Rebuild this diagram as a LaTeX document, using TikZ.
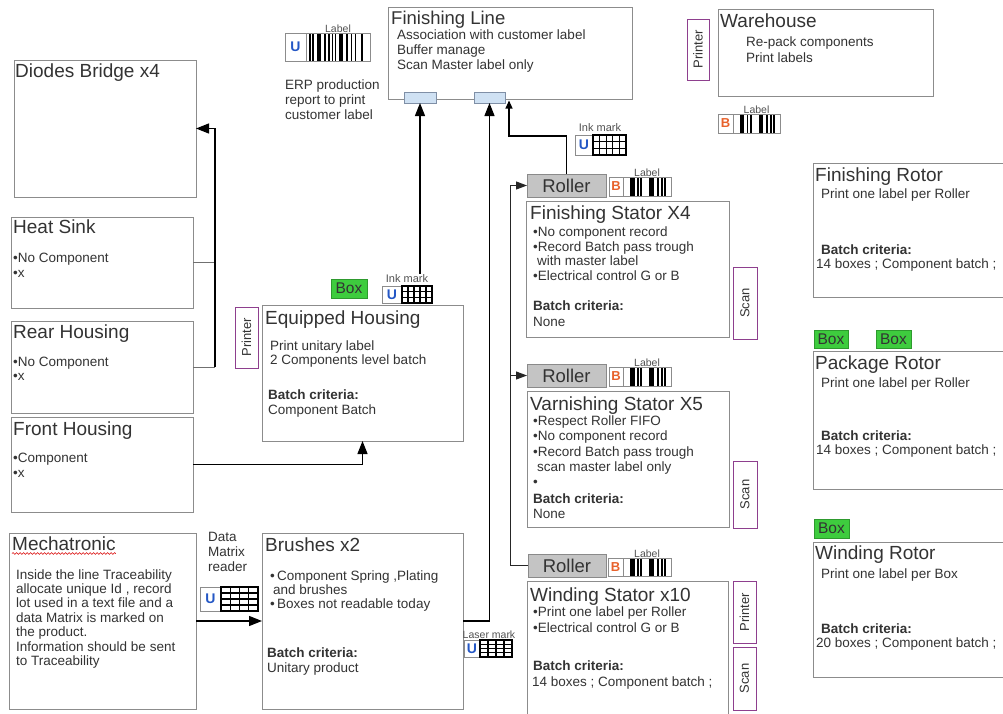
\documentclass[tikz,border=0pt]{standalone}
\usepackage{fontspec}
\setmainfont{Liberation Sans}
\usetikzlibrary{arrows.meta,calc,decorations.pathmorphing}

\definecolor{ink}{HTML}{333333}
\definecolor{frame}{HTML}{8C8C8C}
\definecolor{plum}{HTML}{8E3F8E}
\definecolor{rollgray}{HTML}{C4C4C4}
\definecolor{rolledge}{HTML}{8A8A8A}
\definecolor{boxgreen}{HTML}{3ECC3E}
\definecolor{boxedge}{HTML}{2E9A2E}
\definecolor{slotblue}{HTML}{CFE1F3}
\definecolor{slotedge}{HTML}{7F8FA6}
\definecolor{ublue}{HTML}{2457C5}
\definecolor{borange}{HTML}{E8622C}

\newcommand\fsz[1]{\fontsize{#1}{#1}\selectfont}
% bar positions (start/end as fractions of the code width)
\def\barsWide{0.05/0.075,0.10/0.125,0.165/0.23,0.28/0.305,0.345/0.37,0.40/0.425,0.45/0.475,0.52/0.585,0.63/0.655,0.70/0.725,0.76/0.785,0.86/0.885}
\def\barsShort{0.14/0.24,0.29/0.325,0.36/0.395,0.55/0.64,0.71/0.745,0.79/0.825,0.86/0.895}

\tikzset{
  panel/.style={draw=frame, line width=0.9pt, fill=white, anchor=north west, inner sep=0pt, outer sep=0pt},
  slot/.style={draw=slotedge, line width=0.7pt, fill=slotblue, anchor=north west, inner sep=0pt, outer sep=0pt},
  ttl/.style={anchor=base west, inner sep=0pt, text=ink, font=\fsz{19}},
  txt/.style={anchor=base west, inner sep=0pt, text=ink, font=\fsz{13.5}},
  txtb/.style={anchor=base west, inner sep=0pt, text=ink, font=\fsz{13.5}\bfseries},
  tag/.style={draw=plum, line width=0.9pt, fill=white, anchor=north west, inner sep=0pt, outer sep=0pt},
  tagtxt/.style={rotate=90, inner sep=0pt, text=ink, font=\fsz{13}},
  roller/.style={draw=rolledge, line width=0.9pt, fill=rollgray, anchor=north west, inner sep=0pt, outer sep=0pt, text=ink, font=\fsz{18.5}},
  greenbox/.style={draw=boxedge, line width=0.8pt, fill=boxgreen, anchor=north west, inner sep=0pt, outer sep=0pt, text=ink, font=\fsz{15.5}},
  ubox/.style={draw=frame, line width=0.8pt, fill=white, anchor=north west, inner sep=0pt, outer sep=0pt, text=ublue, font=\fsz{14}\bfseries},
  bbox/.style={ubox, text=borange, font=\fsz{13}\bfseries},
  bars/.style={draw=frame, line width=0.7pt, fill=white, anchor=north west, inner sep=0pt, outer sep=0pt,
    path picture={
      \path (path picture bounding box.south west) coordinate (ppsw)
            (path picture bounding box.north east) coordinate (ppne);
      \foreach \a/\b in #1
        \fill[black] ($(ppsw)!\a!(ppsw-|ppne)$) rectangle ($(ppne-|ppsw)!\b!(ppne)$);
    }},
  dmgrid/.style 2 args={draw=black, line width=1.1pt, fill=white, anchor=north west, inner sep=0pt, outer sep=0pt,
    path picture={
      \path (path picture bounding box.south west) coordinate (ppsw)
            (path picture bounding box.north east) coordinate (ppne);
      \foreach \f in {#1}
        \draw[black, line width=1.1pt] ($(ppsw)!\f!(ppsw-|ppne)$) -- ($(ppne-|ppsw)!\f!(ppne)$);
      \foreach \f in {#2}
        \draw[black, line width=1.1pt] ($(ppne-|ppsw)!\f!(ppsw)$) -- ($(ppne)!\f!(ppsw-|ppne)$);
    }},
  small/.style={anchor=base, inner sep=0pt, text=ink!85, font=\fsz{10.5}},
  link/.style={draw=black, line width=1.3pt, -{Triangle[length=13pt,width=10pt]}},
  linksmall/.style={draw=black, line width=1.1pt, -{Triangle[length=8pt,width=7pt]}},
  linkroll/.style={draw=black!85, line width=1pt, -{Triangle[length=11pt,width=8pt]}},
  wire/.style={draw=black!85, line width=1pt},
  graywire/.style={draw=frame!80!black, line width=0.9pt},
}

\begin{document}
\begin{tikzpicture}[x=1pt,y=-1pt]
\path[use as bounding box, fill=white] (0,0) rectangle (1003,713);

% ---------- Finishing line ----------
\node[panel, minimum width=244pt, minimum height=92pt] (fl) at (388,7) {};
\node[ttl, font=\fsz{18.5}] (flT) at (391,24) {Finishing Line};
\node[txt] (fl1) at (397,39.5) {Association with customer label};
\node[txt] (fl2) at (397,54) {Buffer manage};
\node[txt] (fl3) at (397,69) {Scan Master label only};
\node[slot, minimum width=32pt, minimum height=11pt] (flA) at (404,92) {};
\node[slot, minimum width=31pt, minimum height=11pt] (flB) at (474,92) {};

% customer label printed from ERP
\node[ubox, minimum width=21pt, minimum height=28pt] (erpU) at (285,33) {U};
\node[bars=\barsWide, minimum width=64pt, minimum height=28pt] (erpBar) at (erpU.north east) {};
\node[small] (erpLab) at ([yshift=0.5pt]erpBar.north) {Label};
\node[txt] (erp1) at (285,89) {ERP production};
\node[txt] (erp2) at (285,104) {report to print};
\node[txt] (erp3) at (285,119) {customer label};

% ---------- Warehouse ----------
\node[tag, minimum width=22pt, minimum height=61pt] (whPr) at (687,19) {};
\node[tagtxt] (whPrT) at (whPr.center) {Printer};
\node[panel, minimum width=215pt, minimum height=87pt] (wh) at (718,9) {};
\node[ttl] (whT) at (720,27) {Warehouse};
\node[txt] (wh1) at (746,46.5) {Re-pack components};
\node[txt] (wh2) at (746,62) {Print labels};
\node[bbox, minimum width=15pt, minimum height=19pt] (whB) at (718,114) {B};
\node[bars=\barsShort, minimum width=47pt, minimum height=19pt] (whBar) at (whB.north east) {};
\node[small] (whLab) at ([yshift=1pt]whBar.north) {Label};

% ---------- Left column ----------
\node[panel, minimum width=182pt, minimum height=137pt] (diode) at (14,60) {};
\node[ttl] (diodeT) at (15,77) {Diodes Bridge x4};

\node[panel, minimum width=182pt, minimum height=91pt] (heat) at (11,217) {};
\node[ttl] (heatT) at (13,233) {Heat Sink};
\node[txt] (heat1) at (13,262) {•No Component};
\node[txt] (heat2) at (13,277) {•x};

\node[panel, minimum width=182pt, minimum height=92pt] (rear) at (11,321) {};
\node[ttl] (rearT) at (13,338) {Rear Housing};
\node[txt] (rear1) at (13,366) {•No Component};
\node[txt] (rear2) at (13,380) {•x};

\node[panel, minimum width=182pt, minimum height=95pt] (front) at (11,417) {};
\node[ttl] (frontT) at (13,435) {Front Housing};
\node[txt] (front1) at (13,462) {•Component};
\node[txt] (front2) at (13,477) {•x};

\node[panel, minimum width=187pt, minimum height=176pt] (mech) at (9,533) {};
\node[ttl] (mechT) at (12,550) {Mechatronic};
\draw[red!85!black, line width=0.6pt, decorate, decoration={snake, amplitude=0.9pt, segment length=3.5pt}]
  ([yshift=-3.5pt]mechT.base west) -- ([yshift=-3.5pt]mechT.base east);
\node[txt] (mech1) at (16,579) {Inside the line Traceability};
\node[txt] (mech2) at (16,593.4) {allocate unique Id , record};
\node[txt] (mech3) at (16,607.8) {lot used in a text file and a};
\node[txt] (mech4) at (16,622.2) {data Matrix is marked on};
\node[txt] (mech5) at (16,636.6) {the product.};
\node[txt] (mech6) at (16,651) {Information should be sent};
\node[txt] (mech7) at (16,665.4) {to Traceability};

% data matrix reader
\node[txt] (dmr1) at (208,541) {Data};
\node[txt] (dmr2) at (208,556) {Matrix};
\node[txt] (dmr3) at (208,571) {reader};
\node[ubox, minimum width=21pt, minimum height=24pt] (dmU) at (200,587) {U};
\node[dmgrid={0.25,0.5,0.75}{0.25,0.5,0.75}, minimum width=37pt, minimum height=24pt] (dmGrid) at (dmU.north east) {};

% ---------- Equipped housing ----------
\node[tag, minimum width=23pt, minimum height=61pt] (ehPr) at (235,307) {};
\node[tagtxt] (ehPrT) at (ehPr.center) {Printer};
\node[greenbox, minimum width=36pt, minimum height=19pt] (ehBox) at (331,279) {Box};
\node[ubox, minimum width=20pt, minimum height=17pt] (ehU) at (382,286) {U};
\node[dmgrid={0.2,0.4,0.6,0.8}{0.33,0.67}, minimum width=30pt, minimum height=17pt] (ehGrid) at (ehU.north east) {};
\node[small, font=\fsz{11}] (ehInk) at (407,282) {Ink mark};
\node[panel, minimum width=201pt, minimum height=136pt] (eh) at (262,305) {};
\node[ttl] (ehT) at (265,324) {Equipped Housing};
\node[txt] (eh1) at (270,350) {Print unitary label};
\node[txt] (eh2) at (270,364) {2 Components level batch};
\node[txtb] (eh3) at (268,399) {Batch criteria:};
\node[txt] (eh4) at (268,414) {Component Batch};

% ---------- Brushes ----------
\node[panel, minimum width=201pt, minimum height=176pt] (brushes) at (262,533) {};
\node[ttl] (brT) at (265,551) {Brushes x2};
\node[txt] (br1) at (270,580) {•\,Component Spring ,Plating};
\node[txt] (br2) at (273,594) {and brushes};
\node[txt] (br3) at (270,608) {•\,Boxes not readable today};
\node[txtb] (br4) at (267,657) {Batch criteria:};
\node[txt] (br5) at (267,672) {Unitary product};
\node[ubox, minimum width=16pt, minimum height=17pt] (lzU) at (464,640) {U};
\node[dmgrid={0.25,0.5,0.75}{0.25,0.5,0.75}, minimum width=32pt, minimum height=17pt] (lzGrid) at (lzU.north east) {};
\node[small] (lzLab) at (489,638) {Laser mark};

% ---------- Finishing stator ----------
\node[ubox, minimum width=18pt, minimum height=20pt] (fsU) at (575,135) {U};
\node[dmgrid={0.2,0.4,0.6,0.8}{0.33,0.67}, minimum width=33pt, minimum height=20pt] (fsGrid) at (fsU.north east) {};
\node[small, font=\fsz{11}] (fsInk) at (600,131) {Ink mark};
\node[roller, minimum width=79pt, minimum height=23pt] (rollF) at (527,174) {Roller};
\node[bbox, minimum width=14pt, minimum height=19pt] (rollFB) at (609,177) {B};
\node[bars=\barsShort, minimum width=48pt, minimum height=19pt] (rollFBar) at (rollFB.north east) {};
\node[small] (rollFLab) at ([yshift=0.5pt]rollFBar.north) {Label};
\node[panel, minimum width=203pt, minimum height=136pt] (fs) at (526,201) {};
\node[ttl] (fsT) at (530,219) {Finishing Stator X4};
\node[txt] (fs1) at (533,236) {•No component record};
\node[txt] (fs2) at (533,251) {•Record Batch pass trough};
\node[txt] (fs3) at (537,265) {with master label};
\node[txt] (fs4) at (533,280) {•Electrical control G or B};
\node[txtb] (fs5) at (533,310) {Batch criteria:};
\node[txt] (fs6) at (533,326) {None};
\node[tag, minimum width=24pt, minimum height=72pt] (fsScan) at (733,267) {};
\node[tagtxt] (fsScanT) at (fsScan.center) {Scan};

% ---------- Varnishing stator ----------
\node[roller, minimum width=79pt, minimum height=23pt] (rollV) at (527,364) {Roller};
\node[bbox, minimum width=14pt, minimum height=19pt] (rollVB) at (609,367) {B};
\node[bars=\barsShort, minimum width=48pt, minimum height=19pt] (rollVBar) at (rollVB.north east) {};
\node[small] (rollVLab) at ([yshift=0.5pt]rollVBar.north) {Label};
\node[panel, minimum width=202pt, minimum height=136pt] (vs) at (527,391) {};
\node[ttl] (vsT) at (530,410) {Varnishing Stator X5};
\node[txt] (vs1) at (533,425) {•Respect Roller FIFO};
\node[txt] (vs2) at (533,440.5) {•No component record};
\node[txt] (vs3) at (533,456) {•Record Batch pass trough};
\node[txt] (vs4) at (537,471) {scan master label only};
\node[txt] (vs5) at (533,486) {•};
\node[txtb] (vs6) at (533,503) {Batch criteria:};
\node[txt] (vs7) at (533,518) {None};
\node[tag, minimum width=24pt, minimum height=67pt] (vsScan) at (733,461) {};
\node[tagtxt] (vsScanT) at (vsScan.center) {Scan};

% ---------- Winding stator ----------
\node[roller, minimum width=78pt, minimum height=23pt] (rollW) at (528,554) {Roller};
\node[bbox, minimum width=15pt, minimum height=18pt] (rollWB) at (608,558) {B};
\node[bars=\barsShort, minimum width=48pt, minimum height=18pt] (rollWBar) at (rollWB.north east) {};
\node[small] (rollWLab) at ([yshift=0.5pt]rollWBar.north) {Label};
\node[panel, minimum width=201pt, minimum height=140pt] (ws) at (527,581) {};
\node[ttl] (wsT) at (530,601) {Winding Stator x10};
\node[txt] (ws1) at (533,616) {•Print one label per Roller};
\node[txt] (ws2) at (533,632) {•Electrical control G or B};
\node[txtb] (ws3) at (533,670) {Batch criteria:};
\node[txt] (ws4) at (532,686) {14 boxes ; Component batch ;};
\node[tag, minimum width=23pt, minimum height=62pt] (wsPr) at (733,581) {};
\node[tagtxt] (wsPrT) at (wsPr.center) {Printer};
\node[tag, minimum width=23pt, minimum height=63pt] (wsScan) at (733,647) {};
\node[tagtxt] (wsScanT) at (wsScan.center) {Scan};

% ---------- Rotor column ----------
\node[panel, minimum width=200pt, minimum height=134pt] (fr) at (813,163) {};
\node[ttl] (frT) at (815,181) {Finishing Rotor};
\node[txt] (fr1) at (821,198) {Print one label per Roller};
\node[txtb] (fr2) at (821,254) {Batch criteria:};
\node[txt] (fr3) at (816,268) {14 boxes ; Component batch ;};

\node[greenbox, minimum width=34pt, minimum height=18pt] (prBox1) at (814,330) {Box};
\node[greenbox, minimum width=35pt, minimum height=18pt] (prBox2) at (876,330) {Box};
\node[panel, minimum width=200pt, minimum height=138pt] (pr) at (813,351) {};
\node[ttl] (prT) at (815,369) {Package Rotor};
\node[txt] (pr1) at (821,387) {Print one label per Roller};
\node[txtb] (pr2) at (821,440) {Batch criteria:};
\node[txt] (pr3) at (816,454) {14 boxes ; Component batch ;};

\node[greenbox, minimum width=35pt, minimum height=19pt] (wrBox) at (814,519) {Box};
\node[panel, minimum width=200pt, minimum height=135pt] (wr) at (813,542) {};
\node[ttl] (wrT) at (815,559) {Winding Rotor};
\node[txt] (wr1) at (821,578) {Print one label per Box};
\node[txtb] (wr2) at (821,633) {Batch criteria:};
\node[txt] (wr3) at (816,647) {20 boxes ; Component batch ;};

% ---------- Connectors ----------
\coordinate (dbus) at (215,367);
\draw[graywire] (heat.east) -- (dbus |- heat.east);
\draw[graywire] (rear.east) -- (dbus);
\draw[link] (dbus) |- (diode.east);
\draw[link] (front.east) -| (eh.south);
\draw[link] (mech.east) -- (brushes.west);
\draw[link] (flA.south |- ehInk.north) -- (flA.south);
\draw[link] (brushes.east) -| (flB.south);
\coordinate (flIn) at (509,100.5);
\coordinate (flBend) at (509,136);
\draw[linksmall] (rollF.north) |- (flBend) -- (flIn);
\coordinate (rbus) at (510,565);
\draw[linkroll] (rollW.west) -- (rbus |- rollW.west) |- (rollF.west);
\draw[linkroll] (rbus |- rollV.west) -- (rollV.west);
\end{tikzpicture}
\end{document}
